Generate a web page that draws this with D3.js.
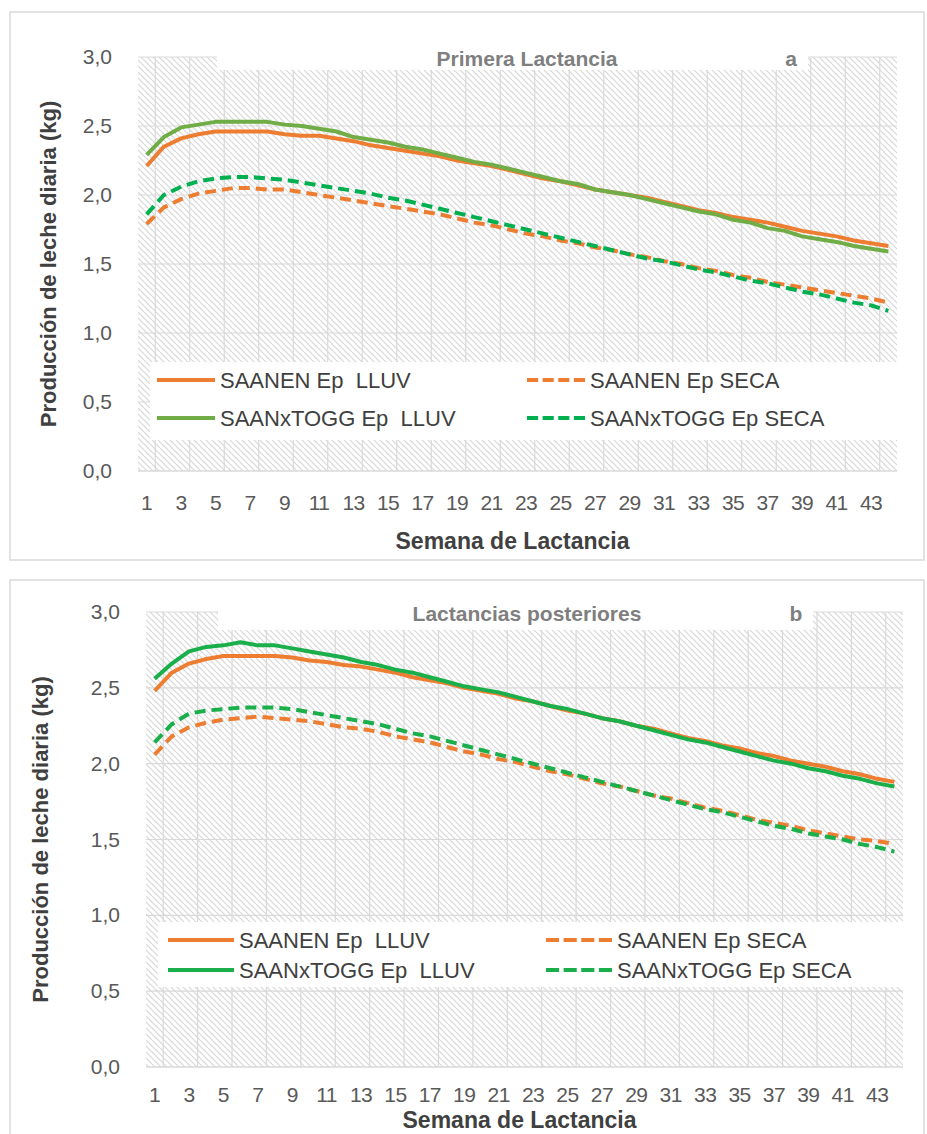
<!DOCTYPE html>
<html lang="es">
<head>
<meta charset="utf-8" />
<title>Producción de leche diaria</title>
<script src="https://d3js.org/d3.v7.min.js"></script>
<style>
  body { margin: 0; background: #fff; }
  svg { display: block; font-family: "Liberation Sans", Arial, sans-serif; }
</style>
</head>
<body>
<script>
// weeks of lactation
var weeks = d3.range(1, 45);
var yTicks = [0, 0.5, 1, 1.5, 2, 2.5, 3];

// panel a - primera lactancia
var a_saanenLluv = [2.21, 2.35, 2.41, 2.44, 2.46, 2.46, 2.46, 2.46, 2.44, 2.43, 2.43, 2.41, 2.39, 2.36, 2.34, 2.32, 2.30, 2.28, 2.25, 2.23, 2.21, 2.18, 2.15, 2.12, 2.10, 2.07, 2.04, 2.02, 2.00, 1.98, 1.95, 1.92, 1.89, 1.87, 1.84, 1.82, 1.80, 1.77, 1.74, 1.72, 1.70, 1.67, 1.65, 1.63];
var a_saanenSeca = [1.79, 1.91, 1.97, 2.01, 2.03, 2.05, 2.05, 2.04, 2.04, 2.02, 2.00, 1.98, 1.96, 1.94, 1.92, 1.90, 1.88, 1.86, 1.83, 1.80, 1.78, 1.75, 1.72, 1.70, 1.67, 1.65, 1.62, 1.60, 1.57, 1.55, 1.52, 1.50, 1.47, 1.45, 1.42, 1.40, 1.37, 1.35, 1.33, 1.31, 1.29, 1.27, 1.25, 1.22];
var a_cruzaLluv = [2.29, 2.42, 2.49, 2.51, 2.53, 2.53, 2.53, 2.53, 2.51, 2.50, 2.48, 2.46, 2.42, 2.40, 2.38, 2.35, 2.33, 2.30, 2.27, 2.24, 2.22, 2.19, 2.16, 2.13, 2.10, 2.08, 2.04, 2.02, 2.00, 1.97, 1.94, 1.91, 1.88, 1.86, 1.82, 1.80, 1.76, 1.74, 1.70, 1.68, 1.66, 1.63, 1.61, 1.59];
var a_cruzaSeca = [1.86, 2.00, 2.06, 2.10, 2.12, 2.13, 2.13, 2.12, 2.11, 2.09, 2.07, 2.05, 2.03, 2.01, 1.98, 1.96, 1.93, 1.90, 1.87, 1.84, 1.81, 1.78, 1.75, 1.72, 1.69, 1.66, 1.63, 1.60, 1.57, 1.54, 1.52, 1.49, 1.46, 1.44, 1.41, 1.38, 1.36, 1.33, 1.30, 1.28, 1.25, 1.22, 1.20, 1.16];

// panel b - lactancias posteriores
var b_saanenLluv = [2.48, 2.60, 2.66, 2.69, 2.71, 2.71, 2.71, 2.71, 2.70, 2.68, 2.67, 2.65, 2.64, 2.62, 2.60, 2.57, 2.55, 2.53, 2.50, 2.48, 2.46, 2.43, 2.41, 2.38, 2.35, 2.33, 2.30, 2.28, 2.25, 2.23, 2.20, 2.17, 2.15, 2.12, 2.10, 2.07, 2.05, 2.02, 2.00, 1.98, 1.95, 1.93, 1.90, 1.88];
var b_saanenSeca = [2.06, 2.18, 2.24, 2.27, 2.29, 2.30, 2.31, 2.30, 2.29, 2.28, 2.26, 2.24, 2.23, 2.21, 2.18, 2.16, 2.14, 2.11, 2.08, 2.06, 2.03, 2.01, 1.98, 1.95, 1.93, 1.90, 1.87, 1.85, 1.82, 1.79, 1.77, 1.74, 1.71, 1.69, 1.66, 1.63, 1.61, 1.59, 1.56, 1.54, 1.52, 1.50, 1.49, 1.47];
var b_cruzaLluv = [2.56, 2.66, 2.74, 2.77, 2.78, 2.80, 2.78, 2.78, 2.76, 2.74, 2.72, 2.70, 2.67, 2.65, 2.62, 2.60, 2.57, 2.54, 2.51, 2.49, 2.47, 2.44, 2.41, 2.38, 2.36, 2.33, 2.30, 2.28, 2.25, 2.22, 2.19, 2.16, 2.14, 2.11, 2.08, 2.05, 2.02, 2.00, 1.97, 1.95, 1.92, 1.90, 1.87, 1.85];
var b_cruzaSeca = [2.14, 2.26, 2.33, 2.35, 2.36, 2.37, 2.37, 2.37, 2.36, 2.34, 2.32, 2.30, 2.28, 2.26, 2.23, 2.20, 2.18, 2.15, 2.12, 2.09, 2.06, 2.03, 2.00, 1.97, 1.94, 1.91, 1.88, 1.85, 1.82, 1.79, 1.76, 1.73, 1.70, 1.68, 1.65, 1.62, 1.59, 1.57, 1.54, 1.52, 1.50, 1.47, 1.45, 1.42];

var seriesNames = ["SAANEN Ep  LLUV", "SAANEN Ep SECA", "SAANxTOGG Ep  LLUV", "SAANxTOGG Ep SECA"];

var orange = "#ed7d31";

var W = 927, H = 1134;
var svg = d3.select("body").append("svg")
    .attr("width", W)
    .attr("height", H);

// hatch pattern for plot area (wide downward diagonal)
var pat = svg.append("defs").append("pattern")
    .attr("id", "hatch")
    .attr("patternUnits", "userSpaceOnUse")
    .attr("width", 6)
    .attr("height", 6);
pat.append("rect").attr("width", 6).attr("height", 6).attr("fill", "#fff");
pat.append("path")
    .attr("d", "M-1,-1 L7,7 M-1,5 L1,7 M5,-1 L7,1")
    .attr("stroke", "#d6d6d6")
    .attr("stroke-width", 1.1);

function drawPanel(p) {
    // outer chart border
    svg.append("rect")
        .attr("x", p.box[0]).attr("y", p.box[1])
        .attr("width", p.box[2]).attr("height", p.box[3])
        .attr("fill", "#fff")
        .attr("stroke", "#d9d9d9")
        .attr("stroke-width", 1.5);

    var x = d3.scaleBand().domain(weeks).range([p.left, p.right]);
    var y = d3.scaleLinear().domain([0, 3]).range([p.bottom, p.top]);
    var g = svg.append("g");

    g.append("rect")
        .attr("x", p.left).attr("y", p.top)
        .attr("width", p.right - p.left).attr("height", p.bottom - p.top)
        .attr("fill", "url(#hatch)");

    // horizontal gridlines
    g.selectAll(".hg").data(yTicks.slice(1)).enter().append("line")
        .attr("x1", p.left).attr("x2", p.right)
        .attr("y1", function (d) { return y(d); })
        .attr("y2", function (d) { return y(d); })
        .attr("stroke", "#d9d9d9").attr("stroke-width", 1.2);

    // vertical gridlines every two weeks
    var vg = weeks.filter(function (d) { return d % 2 === 1 && d < 44; });
    g.selectAll(".vg").data(vg).enter().append("line")
        .attr("x1", function (d) { return x(d) + x.bandwidth(); })
        .attr("x2", function (d) { return x(d) + x.bandwidth(); })
        .attr("y1", p.top).attr("y2", p.bottom)
        .attr("stroke", "#d9d9d9").attr("stroke-width", 1.2);

    // x axis line
    g.append("line")
        .attr("x1", p.left).attr("x2", p.right)
        .attr("y1", p.bottom).attr("y2", p.bottom)
        .attr("stroke", "#d9d9d9").attr("stroke-width", 1.5);

    // y tick labels
    g.selectAll(".yt").data(yTicks).enter().append("text")
        .attr("x", p.left - 26)
        .attr("y", function (d) { return y(d) + 7; })
        .attr("text-anchor", "end")
        .attr("font-size", 21)
        .attr("fill", "#595959")
        .text(function (d) { return d3.format(".1f")(d).replace(".", ","); });

    // x tick labels
    g.selectAll(".xt").data(weeks.filter(function (d) { return d % 2 === 1; })).enter().append("text")
        .attr("x", function (d) { return x(d) + x.bandwidth() / 2; })
        .attr("y", p.bottom + p.xLabelDy)
        .attr("text-anchor", "middle")
        .attr("font-size", 21)
        .attr("letter-spacing", -0.5)
        .attr("fill", "#595959")
        .text(function (d) { return d; });

    // axis titles
    g.append("text")
        .attr("x", (p.left + p.right) / 2 - 5)
        .attr("y", p.xTitleY)
        .attr("text-anchor", "middle")
        .attr("font-size", 23)
        .attr("font-weight", "bold")
        .attr("fill", "#404040")
        .text("Semana de Lactancia");

    g.append("text")
        .attr("transform", "translate(" + p.yTitleX + "," + (p.top + p.bottom) / 2 + ") rotate(-90)")
        .attr("text-anchor", "middle")
        .attr("font-size", 22)
        .attr("font-weight", "bold")
        .attr("fill", "#404040")
        .text("Producción de leche diaria (kg)");

    // title box
    g.append("rect")
        .attr("x", p.titleBox[0]).attr("y", p.top - 3)
        .attr("width", p.titleBox[1] - p.titleBox[0]).attr("height", p.titleBox[2])
        .attr("fill", "#fff");
    g.append("text")
        .attr("x", 527).attr("y", p.top + 9)
        .attr("text-anchor", "middle")
        .attr("font-size", 21)
        .attr("font-weight", "bold")
        .attr("fill", "#7f7f7f")
        .text(p.title);
    g.append("text")
        .attr("x", p.letterX).attr("y", p.top + 9)
        .attr("text-anchor", "middle")
        .attr("font-size", 21)
        .attr("font-weight", "bold")
        .attr("fill", "#7f7f7f")
        .text(p.letter);

    // lines
    var line = d3.line()
        .x(function (d, i) { return x(weeks[i]) + x.bandwidth() / 2; })
        .y(function (d) { return y(d); });

    p.series.forEach(function (s) {
        g.append("path")
            .datum(s.values)
            .attr("d", line)
            .attr("fill", "none")
            .attr("stroke", s.color)
            .attr("stroke-width", 4)
            .attr("stroke-linejoin", "round")
            .attr("stroke-dasharray", s.dash ? "11,6" : null);
    });

    // legend
    var lg = p.legend;
    var gap = 4.5, dash = (lg.sw - 3 * gap) / 4;   // four dashes per legend key
    g.append("rect")
        .attr("x", lg.x).attr("y", lg.y)
        .attr("width", lg.w).attr("height", lg.h)
        .attr("fill", "#fff");
    p.series.forEach(function (s, i) {
        var col = i % 2, row = Math.floor(i / 2);
        var lx = col === 0 ? lg.col1 : lg.col2;
        var ly = lg.row1 + row * lg.rowGap;
        g.append("line")
            .attr("x1", lx).attr("x2", lx + lg.sw)
            .attr("y1", ly).attr("y2", ly)
            .attr("stroke", s.color)
            .attr("stroke-width", 4)
            .attr("stroke-dasharray", s.dash ? dash + "," + gap : null);
        g.append("text")
            .attr("x", lx + lg.sw + 5)
            .attr("y", ly + 8)
            .attr("font-size", 22)
            .attr("fill", "#404040")
            .style("white-space", "pre")
            .attr("xml:space", "preserve")
            .text(s.name);
    });
}

drawPanel({
    box: [10, 12, 914, 548],
    left: 138, right: 897, top: 57, bottom: 471,
    xLabelDy: 39, xTitleY: 549, yTitleX: 56,
    titleBox: [217, 808, 16],
    title: "Primera Lactancia", letter: "a", letterX: 791,
    legend: { x: 150, y: 362, w: 747, h: 78, col1: 157, col2: 527, sw: 58, row1: 380, rowGap: 38 },
    series: [
        { name: seriesNames[0], values: a_saanenLluv, color: orange, dash: false },
        { name: seriesNames[1], values: a_saanenSeca, color: orange, dash: true },
        { name: seriesNames[2], values: a_cruzaLluv, color: "#70ad47", dash: false },
        { name: seriesNames[3], values: a_cruzaSeca, color: "#00b050", dash: true }
    ]
});

drawPanel({
    box: [10, 580, 914, 570],
    left: 146, right: 903, top: 612, bottom: 1067,
    xLabelDy: 35, xTitleY: 1128, yTitleX: 48,
    titleBox: [218, 813, 21],
    title: "Lactancias posteriores", letter: "b", letterX: 796,
    legend: { x: 158, y: 922, w: 745, h: 65, col1: 168, col2: 546, sw: 66, row1: 940, rowGap: 30 },
    series: [
        { name: seriesNames[0], values: b_saanenLluv, color: orange, dash: false },
        { name: seriesNames[1], values: b_saanenSeca, color: orange, dash: true },
        { name: seriesNames[2], values: b_cruzaLluv, color: "#1aaf4a", dash: false },
        { name: seriesNames[3], values: b_cruzaSeca, color: "#1aaf4a", dash: true }
    ]
});
</script>
</body>
</html>
